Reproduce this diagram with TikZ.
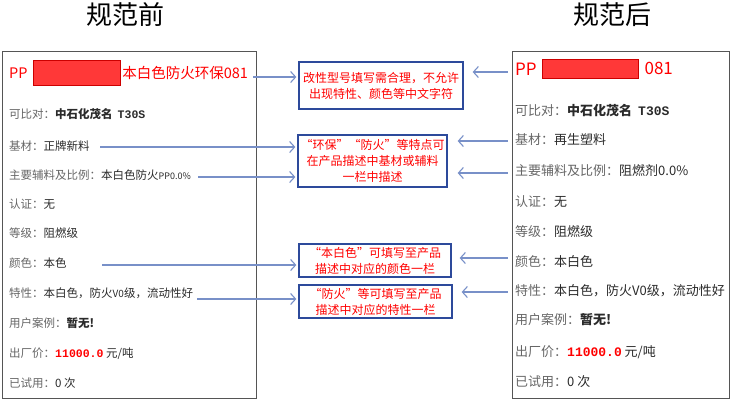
\documentclass[tikz,border=0pt]{standalone}
\usepackage{fontspec}
\newfontfamily\cjk{Noto Sans CJK SC}
\newfontfamily\mono{Liberation Mono}
\usepackage{tikz}
\usetikzlibrary{arrows.meta, positioning}
\tikzset{>={Straight Barb[length=5pt,width=11pt]}}
\usepackage{xcolor}
\definecolor{myred}{HTML}{FF0000}
\definecolor{maskred}{HTML}{FF3838}
\definecolor{boxblue}{HTML}{2D4A9B}
\definecolor{linkblue}{HTML}{7890C8}
\definecolor{lblgray}{HTML}{666666}
\definecolor{valgray}{HTML}{2A2A2A}
\definecolor{framegray}{HTML}{555555}
\tikzset{
	heading/.style={inner sep=0pt, font=\cjk\fontsize{26}{30}\selectfont},
	card/.style={draw=framegray, line width=1.3pt, inner sep=0pt, anchor=north west},
	rowl/.style={anchor=west, inner sep=0pt, text=lblgray, font=\cjk\fontsize{11.5}{14}\selectfont},
	rowr/.style={anchor=west, inner sep=0pt, text=lblgray, font=\cjk\fontsize{13}{16}\selectfont},
	mask/.style={fill=maskred, draw=red!80!black, line width=0.4pt, inner sep=0pt},
	notebox/.style={draw=boxblue, line width=1.3pt, inner sep=0pt, align=center, text=myred, font=\cjk\fontsize{12}{16}\selectfont},
	link/.style={draw=linkblue, line width=1.1pt}
}
\newcommand{\val}[1]{\textcolor{valgray}{#1}}
\begin{document}
\begin{tikzpicture}[x=1pt, y=-1pt]
	\useasboundingbox (0,0) rectangle (730,400);
	\node[heading] (before) at (125,15) {规范前};
	\node[heading] (after) at (612,15) {规范后};
	\node[card, minimum width=254, minimum height=347] (leftcard) at (2,51) {};
	\node[card, minimum width=217, minimum height=347] (rightcard) at (512,51) {};

	\node[rowl, text=myred, font=\cjk\fontsize{14.5}{17}\selectfont] (lpp) at (9,73) {PP};
	\node[mask, minimum width=87, minimum height=25, right=5pt of lpp] (lmask) {};
	\node[rowl, text=myred, font=\cjk\fontsize{14.5}{17}\selectfont, right=2pt of lmask] (lname) {本白色防火环保081};
	\node[rowl] (lcmp) at (9,114) {可比对：\val{\bfseries 中石化茂名\hspace{5pt}{\mono T30S}}};
	\node[rowl] (lbase) at (9,146) {基材：\val{正牌新料}};
	\node[rowl] (lmix) at (9,175) {主要辅料及比例：\val{本白色防火{\fontsize{9}{11}\selectfont PP0.0\%}}};
	\node[rowl] (lcert) at (9,204) {认证：\val{无}};
	\node[rowl] (lgrade) at (9,233) {等级：\val{阻燃级}};
	\node[rowl] (lcolor) at (9,263) {颜色：\val{本色}};
	\node[rowl] (lfeat) at (9,293) {特性：\val{本白色，防火{\fontsize{10}{12}\selectfont V0}级，流动性好}};
	\node[rowl] (lcase) at (9,323) {用户案例：\val{\bfseries 暂无!}};
	\node[rowl] (lprice) at (9,354) {出厂价：{\mono\bfseries\color{myred}11000.0} \val{元/吨}};
	\node[rowl] (lused) at (9,383) {已试用：\val{0 次}};

	\node[rowr, text=myred, font=\cjk\fontsize{17}{20}\selectfont] (rpp) at (515,69) {PP};
	\node[mask, minimum width=96, minimum height=19, anchor=west] (rmask) at (542,68.5) {};
	\node[rowr, text=myred, font=\cjk\fontsize{17}{20}\selectfont, right=6pt of rmask] (rname) {081};
	\node[rowr] (rcmp) at (515,111) {可比对：\val{\bfseries 中石化茂名\hspace{6pt}{\mono T30S}}};
	\node[rowr] (rbase) at (515,140) {基材：\val{再生塑料}};
	\node[rowr] (rmix) at (515,171) {主要辅料及比例：\val{阻燃剂0.0\%}};
	\node[rowr] (rcert) at (515,202) {认证：\val{无}};
	\node[rowr] (rgrade) at (515,232) {等级：\val{阻燃级}};
	\node[rowr] (rcolor) at (515,262) {颜色：\val{本白色}};
	\node[rowr] (rfeat) at (515,291) {特性：\val{本白色，防火V0级，流动性好}};
	\node[rowr] (rcase) at (515,320) {用户案例：\val{\bfseries 暂无!}};
	\node[rowr] (rprice) at (515,352) {出厂价：{\mono\bfseries\color{myred}11000.0} \val{元/吨}};
	\node[rowr] (rused) at (515,382) {已试用：\val{0 次}};

	\node[notebox, minimum width=164, minimum height=47] (box1) at (381,85.5) {改性型号填写需合理，不允许\\出现特性、颜色等中文字符};
	\node[notebox, minimum width=149, minimum height=52] (box2) at (372.5,161) {“环保”“防火”等特点可\\在产品描述中基材或辅料\\一栏中描述};
	\node[notebox, minimum width=152, minimum height=33] (box3) at (375,260.5) {“本白色”可填写至产品\\描述中对应的颜色一栏};
	\node[notebox, minimum width=153, minimum height=33] (box4) at (375.5,301.5) {“防火”等可填写至产品\\描述中对应的特性一栏};

	\coordinate (la1) at (253,77);
	\coordinate (la2) at (100,147);
	\coordinate (la3) at (198,177);
	\coordinate (la4) at (102,265);
	\coordinate (la5) at (197,299);
	\draw[link, ->, shorten >=2pt] (la1) -- (la1 -| box1.west);
	\draw[link, ->, shorten >=2pt] (la2) -- (la2 -| box2.west);
	\draw[link, ->, shorten >=2pt] (la3) -- (la3 -| box2.west);
	\draw[link, ->, shorten >=2pt] (la4) -- (la4 -| box3.west);
	\draw[link, ->, shorten >=2pt] (la5) -- (la5 -| box4.west);

	\coordinate (ra1) at (508,72);
	\coordinate (ra2) at (508,141);
	\coordinate (ra3) at (508,173);
	\coordinate (ra4) at (508,258);
	\coordinate (ra5) at (508,292);
	\draw[link, <-, shorten <=9pt] (ra1 -| box1.east) -- (ra1);
	\draw[link, <-, shorten <=10pt] (ra2 -| box2.east) -- (ra2);
	\draw[link, <-, shorten <=10pt] (ra3 -| box2.east) -- (ra3);
	\draw[link, <-, shorten <=8pt] (ra4 -| box3.east) -- (ra4);
	\draw[link, <-, shorten <=9pt] (ra5 -| box4.east) -- (ra5);
\end{tikzpicture}
\end{document}
